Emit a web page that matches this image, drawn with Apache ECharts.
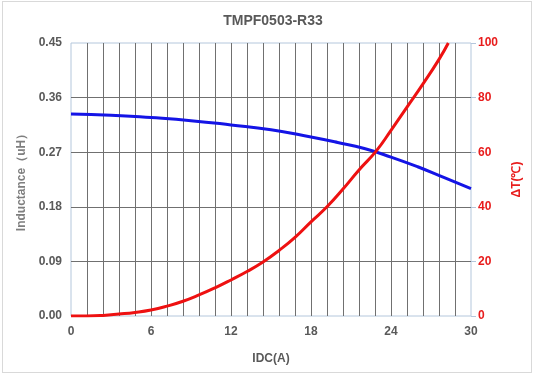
<!DOCTYPE html>
<html>
<head>
<meta charset="utf-8">
<script src="https://cdn.jsdelivr.net/npm/echarts@6/dist/echarts.min.js"></script>
<style>
  html, body { margin: 0; padding: 0; background: #fff; }
  #frame { position: absolute; left: 2px; top: 1px; width: 528px; height: 370px; border: 1px solid #d9d9d9; }
  #chart { position: absolute; left: 0; top: 0; width: 536px; height: 374px; }
</style>
</head>
<body>
<div id="frame"></div>
<div id="chart"></div>
<script>
// IDC(A) sample points for each curve
var idcL = [0, 3, 6, 9, 12, 15, 18, 20, 22, 24, 26, 28, 30];
var inductance = [0.333, 0.331, 0.327, 0.322, 0.315, 0.307, 0.295, 0.286, 0.276, 0.262, 0.246, 0.228, 0.210];

var idcT = [0, 1.2, 2.4, 3.6, 4.8, 6, 7.2, 8.4, 9.6, 10.8, 12, 13.2, 14.4, 15.6, 16.8, 18, 19.2, 20.4, 21.6, 22.9, 24, 25.2, 26.4, 27.6, 28.3];
var deltaT = [0, 0, 0.2, 0.7, 1.3, 2.2, 3.6, 5.4, 7.7, 10.3, 13.2, 16.3, 19.8, 24, 28.8, 34.5, 40, 46.5, 53.5, 60.5, 68, 76.5, 85, 94, 100];

var leftTicks = [0, 0.45, 0.09];
var rightTicks = [0, 100, 20];

function pairs(xs, ys) {
  var out = [];
  for (var i = 0; i < xs.length; i++) out.push([xs[i], ys[i]]);
  return out;
}

var myChart = echarts.init(document.getElementById("chart"));
var fontFam = "'Liberation Sans', Arial, sans-serif";
var gridColor = "#707070";
var option = {
  animation: false,
  title: {
    text: "TMPF0503-R33",
    left: 268,
    textAlign: "center",
    top: 9,
    textStyle: { fontFamily: fontFam, fontSize: 14, fontWeight: "bold", color: "#595959" }
  },
  grid: {
    left: 71,
    right: 65,
    top: 43,
    bottom: 58,
    show: true,
    borderColor: "#b4c7dc",
    borderWidth: 1
  },
  xAxis: {
    type: "value",
    min: 0,
    max: 30,
    interval: 6,
    name: "IDC(A)",
    nameLocation: "middle",
    nameGap: 37,
    nameTextStyle: { fontFamily: fontFam, fontSize: 12, fontWeight: "bold", color: "#595959" },
    axisLine: { show: false },
    axisTick: { show: false },
    axisLabel: { fontFamily: fontFam, fontSize: 12, fontWeight: "bold", color: "#595959", margin: 10 },
    splitLine: { show: true, showMinLine: false, showMaxLine: false, lineStyle: { color: gridColor, width: 1 } },
    minorTick: { show: false, splitNumber: 5 },
    minorSplitLine: { show: true, lineStyle: { color: gridColor, width: 1 } }
  },
  yAxis: [
    {
      type: "value",
      min: leftTicks[0],
      max: leftTicks[1],
      interval: leftTicks[2],
      name: "Inductance（uH）",
      nameLocation: "middle",
      nameGap: 42,
      nameTextStyle: { fontFamily: fontFam, fontSize: 12, fontWeight: "bold", color: "#7f7f7f" },
      axisLine: { show: false },
      axisTick: { show: false },
      axisLabel: {
        fontFamily: fontFam, fontSize: 12, fontWeight: "bold", color: "#595959", margin: 9,
        formatter: function (v) { return v.toFixed(2); }
      },
      splitLine: { show: true, showMinLine: false, showMaxLine: false, lineStyle: { color: gridColor, width: 1 } }
    },
    {
      type: "value",
      min: rightTicks[0],
      max: rightTicks[1],
      interval: rightTicks[2],
      position: "right",
      name: "ΔT(℃)",
      nameLocation: "middle",
      nameGap: 40,
      nameTextStyle: { fontFamily: fontFam, fontSize: 12, fontWeight: "bold", color: "#e81c1c" },
      axisLine: { show: false },
      axisTick: { show: true, length: 5, lineStyle: { color: "#b4c7dc" } },
      axisLabel: { fontFamily: fontFam, fontSize: 12, fontWeight: "bold", color: "#e81c1c", margin: 7 },
      splitLine: { show: false }
    }
  ],
  series: [
    {
      name: "Inductance",
      type: "line",
      yAxisIndex: 0,
      smooth: true,
      symbol: "none",
      lineStyle: { color: "#1414e6", width: 3 },
      data: pairs(idcL, inductance)
    },
    {
      name: "Temperature rise",
      type: "line",
      yAxisIndex: 1,
      smooth: true,
      symbol: "none",
      lineStyle: { color: "#ee1111", width: 3 },
      data: pairs(idcT, deltaT)
    }
  ]
};
myChart.setOption(option, true);
window.addEventListener("resize", () => {
  myChart.resize();
});
</script>
</body>
</html>
